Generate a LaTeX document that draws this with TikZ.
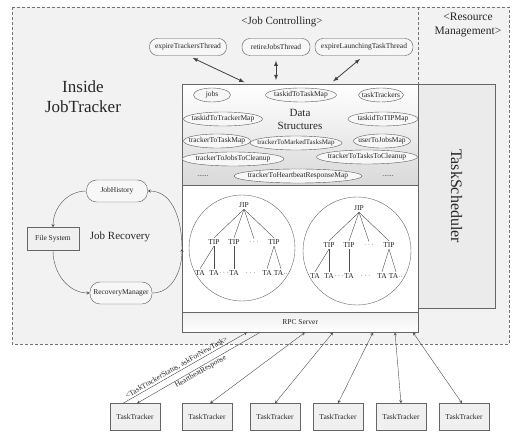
\documentclass[tikz,border=0pt]{standalone}
\usepackage{fontspec}
\setmainfont{Liberation Serif}
\usepackage{tikz}
\usetikzlibrary{shapes.geometric, calc, arrows, positioning, trees}

\begin{document}
\begin{tikzpicture}[
  x=1pt, y=-1pt,
  every node/.style={align=center, inner sep=0, text=black!85},
  region/.style={draw=black!60, anchor=north west, minimum width=236pt},
  ds/.style={ellipse, draw=black!65, fill=black!3, inner xsep=-6pt, minimum height=14pt, font=\fontsize{7.5}{9}\selectfont},
  thread/.style={draw=black!65, fill=black!3, rounded corners=8pt, minimum height=17pt, font=\fontsize{7.5}{9}\selectfont},
  tracker/.style={draw=black!60, fill=black!6, minimum width=50pt, minimum height=27pt, font=\fontsize{7.5}{9}\selectfont},
  tnode/.style={font=\fontsize{7.5}{9}\selectfont, inner sep=1.5pt},
  every child node/.style={tnode},
  link/.style={<->, >=latex, line width=0.8pt, black!75, shorten <=5pt, shorten >=4pt},
  wire/.style={black!70, >=stealth},
  tag/.style={font=\fontsize{7.5}{9}\selectfont},
  level distance=37pt,
  level 1/.style={sibling distance=20pt},
  level 2/.style={sibling distance=14pt, level distance=31pt},
  parent anchor=south, child anchor=north,
  edge from parent/.style={draw, black!70}
]
\useasboundingbox (0,0) rectangle (515,438);

% dashed frame of the JobTracker
\draw[densely dashed, black!55, fill=black!5] (12,7) rectangle (509,344);
\draw[densely dashed, black!55] (418,7) -- (418,84);

\node[font=\fontsize{11}{13}\selectfont] (jobctl) at (282,22) {<Job Controlling>};
\node[font=\fontsize{11.5}{14}\selectfont] (resmgmt) at (468,25) {<Resource\\Management>};
\node[font=\fontsize{17}{20}\selectfont] (inside) at (83,97) {Inside\\JobTracker};

% resource management
\node[draw=black!60, fill=black!8, minimum width=224pt, minimum height=77pt, rotate=-90,
  font=\fontsize{16}{18}\selectfont] (sched) at (456.5,196) {TaskScheduler};

% job controlling
\node[region, minimum height=101pt, top color=white, bottom color=black!15] (data) at (182,84) {};
\node[region, minimum height=127pt, fill=white] (tree) at (182,185) {};
\node[region, minimum height=20pt, top color=black!6, bottom color=white,
  font=\fontsize{7.5}{9}\selectfont] (rpc) at (182,312) {RPC Server};

\node[font=\fontsize{11}{13}\selectfont] (dslabel) at (300,119.5) {Data\\Structures};
\node[ds, minimum width=37pt] (jobs) at (212,95) {jobs};
\node[ds, minimum width=71pt] (tidTask) at (301,95) {taskidToTaskMap};
\node[ds, minimum width=45pt] (ttrackers) at (381,95) {taskTrackers};
\node[ds, minimum width=79pt] (tidTracker) at (223,119) {taskidToTrackerMap};
\node[ds, minimum width=70pt] (tidTip) at (383,119) {taskidToTIPMap};
\node[ds, minimum width=91pt, font=\fontsize{7}{8}\selectfont] (trMarked) at (296,143) {trackerToMarkedTasksMap};
\node[ds, minimum width=67pt] (trTask) at (217,141) {trackerToTaskMap};
\node[ds, minimum width=57pt] (userJobs) at (382,141) {userToJobsMap};
\node[ds, minimum width=102pt] (trJobsClean) at (233,159) {trackerToJobsToCleanup};
\node[ds, minimum width=101pt] (trTasksClean) at (367,157) {trackerToTasksToCleanup};
\node[ds, minimum width=128pt] (trHeart) at (298,176) {trackerToHeartbeatResponseMap};
\node[tnode] (moreA) at (203,176) {......};
\node[tnode] (moreB) at (388,176) {......};

\node[thread, minimum width=77pt] (expTT) at (188,47) {expireTrackersThread};
\node[thread, minimum width=68pt] (retJT) at (276,47) {retireJobsThread};
\node[thread, minimum width=98pt] (expLT) at (364,47) {expireLaunchingTaskThread};

\draw[link] (expTT.south) -- ([xshift=66pt]data.north west);
\draw[link] (retJT.south) -- ([xshift=94pt]data.north west);
\draw[link] (expLT.south) -- ([xshift=148pt]data.north west);

% jobs in progress
\node[circle, draw=black!60, minimum size=106pt] (jobA) at (242,248) {};
\node[circle, draw=black!60, minimum size=108pt] (jobB) at (357,251) {};

\node[tnode] (jipA) at (244,205) {JIP}
  child {node (tipA1) {TIP}
    child {node (taA1) {TA}}
    child {node (taA2) {TA}}
    child[missing] {}}
  child {node (tipA2) {TIP}
    child {node (taA3) {TA}}}
  child {node (tipA3) {$\cdots$}}
  child {node (tipA4) {TIP}
    child {node (taA4) {TA}}
    child {node (taA5) {TA$\cdot\cdot$}}};
\node[tnode] (dotA1) at ($(taA2)!0.5!(taA3)$) {$\cdots$};
\node[tnode] (dotA2) at ($(taA3)!0.5!(taA4)$) {$\cdots$};

\node[tnode] (jipB) at (359,208) {JIP}
  child {node (tipB1) {TIP}
    child {node (taB1) {TA}}
    child {node (taB2) {TA}}
    child[missing] {}}
  child {node (tipB2) {TIP}
    child {node (taB3) {TA}}}
  child {node (tipB3) {$\cdots$}}
  child {node (tipB4) {TIP}
    child {node (taB4) {TA}}
    child {node (taB5) {TA$\cdot\cdot$}}};
\node[tnode] (dotB1) at ($(taB2)!0.5!(taB3)$) {$\cdots$};
\node[tnode] (dotB2) at ($(taB3)!0.5!(taB4)$) {$\cdots$};

% job recovery
\node[font=\fontsize{11}{13}\selectfont] (recovery) at (120,237) {Job Recovery};
\node[thread, minimum width=61pt, minimum height=22pt, rounded corners=10pt] (hist) at (117,191) {JobHistory};
\node[tracker, minimum width=52pt, minimum height=23pt] (fs) at (53,239) {File System};
\node[thread, minimum width=62pt, minimum height=22pt, rounded corners=10pt] (recmgr) at (121,293) {RecoveryManager};

\draw[wire, ->] (hist.west) to[out=180, in=90] (fs.north);
\draw[wire, ->] (fs.south) to[out=-90, in=180] (recmgr.west);
\draw[wire, ->] (recmgr.east) to[out=0, in=-90] (tree.west);
\draw[wire, ->] (tree.west) to[out=90, in=0] (hist.east);

% task trackers
\node[tracker] (tt1) at (135,417) {TaskTracker};
\node[tracker] (tt2) at (207,417) {TaskTracker};
\node[tracker] (tt3) at (275,417) {TaskTracker};
\node[tracker] (tt4) at (338,417) {TaskTracker};
\node[tracker] (tt5) at (401,417) {TaskTracker};
\node[tracker] (tt6) at (464,417) {TaskTracker};

\draw[wire, ->] ([xshift=-12pt]tt1.north) -- node[tag, sloped, above=1pt, pos=0.45] {<TaskTrackerStatus, askForNewTask>} ([xshift=65pt]rpc.south west);
\draw[wire, <-] ([xshift=2pt]tt1.north) -- node[tag, sloped, below=1pt] {HeartbeatResponse} ([xshift=78pt]rpc.south west);
\draw[wire, <->] ([xshift=123pt]rpc.south west) -- ([xshift=3pt]tt2.north);
\draw[wire, <->] ([xshift=151pt]rpc.south west) -- (tt3.north);
\draw[wire, <->] ([xshift=191pt]rpc.south west) -- (tt4.north);
\draw[wire, <->] ([xshift=213pt]rpc.south west) -- (tt5.north);
\draw[wire, <->] ([xshift=231pt]rpc.south west) -- ([xshift=-2pt]tt6.north);
\end{tikzpicture}
\end{document}
